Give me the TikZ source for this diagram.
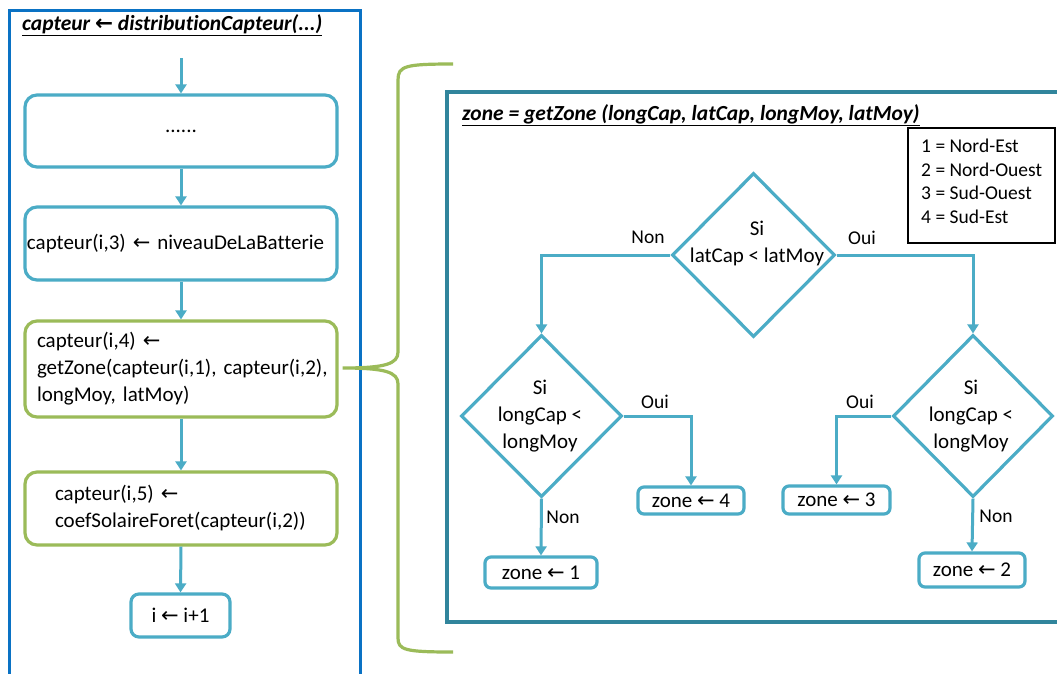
\documentclass[tikz,border=0pt]{standalone}
\usepackage{fontspec}
\setmainfont[Ligatures=CommonOff]{Carlito}
\newfontfamily\arrfont{DejaVu Sans}
\newcommand{\lar}{{\arrfont ←}}
\usetikzlibrary{arrows.meta,shapes.geometric,calc}
\definecolor{outerblue}{RGB}{10,114,196}
\definecolor{innerteal}{RGB}{49,133,156}
\definecolor{boxteal}{RGB}{75,172,198}
\definecolor{boxgreen}{RGB}{155,187,89}
\begin{document}
\begin{tikzpicture}[x=1pt,y=-1pt,
  every node/.style={font=\fontsize{21}{27}\selectfont, text=black},
  tbox/.style={draw=boxteal, line width=3.2pt, rounded corners=12pt, inner ysep=0pt, minimum width=312pt, align=left},
  gbox/.style={draw=boxgreen, line width=3.2pt, rounded corners=12pt, inner ysep=0pt, minimum width=312pt, align=left},
  zbox/.style={draw=boxteal, line width=3.2pt, rounded corners=6pt, inner sep=0pt},
  dia/.style={draw=boxteal, line width=3.2pt, diamond, inner sep=0pt},
  dtext/.style={align=center},
  flow/.style={draw=boxteal, line width=3pt, -{Triangle[length=9pt,width=11pt]}},
  lbl/.style={font=\fontsize{19.5}{23}\selectfont},
  ttl/.style={font=\fontsize{21.5}{25}\selectfont\bfseries\itshape, anchor=west, inner sep=0pt},
  bracepath/.style={draw=boxgreen, line width=3.2pt}
]
\clip (0,0) rectangle (1057,673);
\fill[white] (0,0) rectangle (1057,673);
% outer frame
\draw[outerblue, line width=3pt] (9,10) rectangle (360,720);
\node[ttl] (t1) at (22,25) {\underline{capteur \lar{} distributionCapteur(...)}};
% left column
\coordinate (start) at (181,58);
\node[tbox, minimum height=72pt, inner xsep=0pt, text width=312pt, align=center] (b1) at (181,131) {......};
\node[tbox, minimum height=73pt, inner xsep=2pt, text width=308pt] (b2) at (181,243.5) {capteur(i,3) \lar{} niveauDeLaBatterie};
\node[gbox, minimum height=96pt, inner xsep=12pt, text width=288pt] (b3) at (181,369) {\mbox{capteur(i,4) \lar}\\\mbox{getZone(capteur(i,1), capteur(i,2),}\\\mbox{longMoy, latMoy)}};
\node[gbox, minimum height=73pt, inner xsep=30pt, text width=252pt] (b4) at (181,508.5) {\mbox{capteur(i,5) \lar}\\\mbox{coefSolaireForet(capteur(i,2))}};
\node[tbox, minimum width=99pt, minimum height=43pt, rounded corners=8pt, inner xsep=0pt, align=center] (b5) at (180.5,615.5) {i \lar{} i+1};
\draw[flow] (start) -- (b1.north);
\draw[flow] (b1.south) -- (b2.north);
\draw[flow] (b2.south) -- (b3.north);
\draw[flow] (b3.south) -- (b4.north);
\draw[flow] (b4.south) -- (b5.north);
% brace
\coordinate (tip) at ($(b3.east)+(4,-1)$);
\draw[bracepath] (453,64) .. controls (405,64) and (398,66) .. (398,80) -- (398,352) .. controls (398,364) and (385,368) .. (tip) .. controls (385,368) and (398,372) .. (398,384) -- (398,638) .. controls (398,650) and (405,652) .. (453,652);
% inner frame
\draw[innerteal, line width=3.2pt] (447,92) rectangle (1075,622);
\node[ttl] (t2) at (462,115) {\underline{zone = getZone (longCap, latCap, longMoy, latMoy)}};
% legend
\draw[black, line width=1.4pt] (908,128) rectangle (1055,243);
\node[lbl, anchor=north west, align=left, inner sep=0pt, font=\fontsize{19.5}{23.5}\selectfont] (leg) at (921,139) {1 = Nord-Est\\2 = Nord-Ouest\\3 = Sud-Ouest\\4 = Sud-Est};
% diamonds
\node[dia, minimum width=163pt, minimum height=164pt] (d1) at (753.5,255) {};
\node[dtext] (d1t) at (757,243) {Si\\latCap < latMoy};
\node[dia, minimum width=161pt, minimum height=162pt] (d2) at (541.5,416) {};
\node[dtext] (d2t) at (540,416) {Si\\longCap <\\longMoy};
\node[dia, minimum width=160pt, minimum height=162pt] (d3) at (973,416) {};
\node[dtext] (d3t) at (971,416) {Si\\longCap <\\longMoy};
% zone boxes
\node[zbox, minimum width=112pt, minimum height=31pt] (z1) at (541,572.5) {zone \lar{} 1};
\node[zbox, minimum width=106pt, minimum height=27pt] (z4) at (691,500.5) {zone \lar{} 4};
\node[zbox, minimum width=107pt, minimum height=28pt] (z3) at (836.5,500) {zone \lar{} 3};
\node[zbox, minimum width=106pt, minimum height=34pt] (z2) at (972,570) {zone \lar{} 2};
% connectors
\draw[flow] (d1.west) -| (d2.north);
\draw[flow] (d1.east) -| (d3.north);
\draw[flow] (d2.east) -| (z4.north);
\draw[flow] (d2.south) -- (z1.north);
\draw[flow] (d3.west) -| (z3.north);
\draw[flow] (d3.south) -- (z2.north);
% labels
\node[lbl] (n1) at (648,237) {Non};
\node[lbl] (o1) at (862,238) {Oui};
\node[lbl] (o2) at (655,402) {Oui};
\node[lbl] (n2) at (563,517) {Non};
\node[lbl] (o3) at (860,402) {Oui};
\node[lbl] (n3) at (996,516) {Non};
\end{tikzpicture}
\end{document}
